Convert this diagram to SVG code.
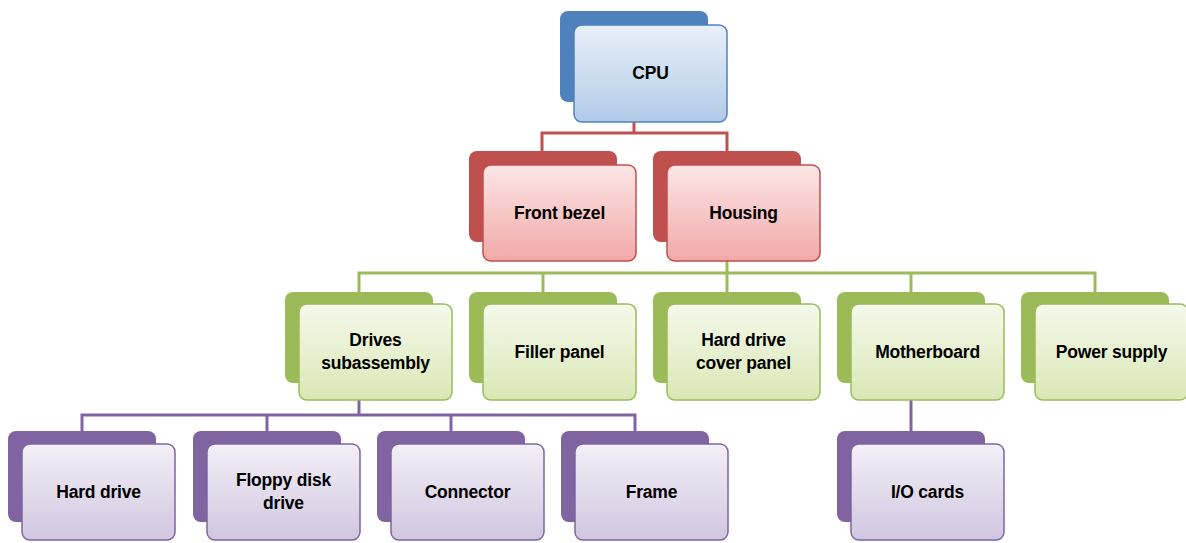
<svg xmlns="http://www.w3.org/2000/svg" width="1186" height="543" viewBox="0 0 1186 543">
<defs>
<linearGradient id="gB" x1="0" y1="0" x2="0" y2="1"><stop offset="0" stop-color="#E8F0FA"/><stop offset="1" stop-color="#B1CBE7"/></linearGradient>
<linearGradient id="gR" x1="0" y1="0" x2="0" y2="1"><stop offset="0" stop-color="#FCE6E6"/><stop offset="1" stop-color="#F2A9A8"/></linearGradient>
<linearGradient id="gG" x1="0" y1="0" x2="0" y2="1"><stop offset="0" stop-color="#F5F9EB"/><stop offset="1" stop-color="#DAE7B5"/></linearGradient>
<linearGradient id="gP" x1="0" y1="0" x2="0" y2="1"><stop offset="0" stop-color="#F3F0F7"/><stop offset="1" stop-color="#D1C6E0"/></linearGradient>
</defs>
<style>
.bk{rx:8px;ry:8px}
.fr{rx:8px;ry:8px;stroke-width:1.5}
.blue .bk{fill:#4F81BD}.blue .fr{fill:url(#gB);stroke:#4F81BD}
.red .bk{fill:#C0504D}.red .fr{fill:url(#gR);stroke:#C0504D}
.green .bk{fill:#9BBB59}.green .fr{fill:url(#gG);stroke:#9BBB59}
.purple .bk{fill:#8064A2}.purple .fr{fill:url(#gP);stroke:#8064A2}
text{font-family:"Liberation Sans",Arial,sans-serif;font-weight:bold;font-size:17.5px;text-anchor:middle;fill:#000;letter-spacing:-0.2px}
.c line,.c polyline{fill:none;stroke-width:3}
</style>
<g id="connectors" class="c">
<g stroke="#C0504D"><polyline points="634,122 634,133"/><polyline points="542,151 542,133 727,133 727,151"/></g>
<g stroke="#9BBB59"><polyline points="727,261 727,273"/><polyline points="359,292 359,273 1095,273 1095,292"/><line x1="543" y1="273" x2="543" y2="292"/><line x1="727" y1="273" x2="727" y2="292"/><line x1="911" y1="273" x2="911" y2="292"/></g>
<g stroke="#8064A2"><polyline points="359,400 359,415"/><polyline points="82,431 82,415 635,415 635,431"/><line x1="267" y1="415" x2="267" y2="431"/><line x1="451" y1="415" x2="451" y2="431"/><polyline points="911,399 911,431"/></g>
</g>
<g id="cpu" class="blue"><rect class="bk" x="560" y="11" width="148" height="91"/><rect class="fr" x="574" y="25" width="153" height="97"/><text x="650.5" y="79">CPU</text></g>
<g id="front-bezel" class="red"><rect class="bk" x="469" y="151" width="148" height="91"/><rect class="fr" x="483" y="165" width="153" height="96"/><text x="559.5" y="219">Front bezel</text></g>
<g id="housing" class="red"><rect class="bk" x="653" y="151" width="148" height="91"/><rect class="fr" x="667" y="165" width="153" height="96"/><text x="743.5" y="219">Housing</text></g>
<g id="drives-subassembly" class="green"><rect class="bk" x="285" y="292" width="148" height="91"/><rect class="fr" x="299" y="304" width="153" height="96"/><text x="375.5" y="346">Drives</text><text x="375.5" y="369">subassembly</text></g>
<g id="filler-panel" class="green"><rect class="bk" x="469" y="292" width="148" height="91"/><rect class="fr" x="483" y="304" width="153" height="96"/><text x="559.5" y="358">Filler panel</text></g>
<g id="hard-drive-cover-panel" class="green"><rect class="bk" x="653" y="292" width="148" height="91"/><rect class="fr" x="667" y="304" width="153" height="96"/><text x="743.5" y="346">Hard drive</text><text x="743.5" y="369">cover panel</text></g>
<g id="motherboard" class="green"><rect class="bk" x="837" y="292" width="148" height="91"/><rect class="fr" x="851" y="304" width="153" height="96"/><text x="927.5" y="358">Motherboard</text></g>
<g id="power-supply" class="green"><rect class="bk" x="1021" y="292" width="148" height="91"/><rect class="fr" x="1035" y="304" width="153" height="96"/><text x="1111.5" y="358">Power supply</text></g>
<g id="hard-drive" class="purple"><rect class="bk" x="8" y="431" width="148" height="91"/><rect class="fr" x="22" y="444" width="153" height="96"/><text x="98.5" y="498">Hard drive</text></g>
<g id="floppy-disk-drive" class="purple"><rect class="bk" x="193" y="431" width="148" height="91"/><rect class="fr" x="207" y="444" width="153" height="96"/><text x="283.5" y="486">Floppy disk</text><text x="283.5" y="509">drive</text></g>
<g id="connector" class="purple"><rect class="bk" x="377" y="431" width="148" height="91"/><rect class="fr" x="391" y="444" width="153" height="96"/><text x="467.5" y="498">Connector</text></g>
<g id="frame" class="purple"><rect class="bk" x="561" y="431" width="148" height="91"/><rect class="fr" x="575" y="444" width="153" height="96"/><text x="651.5" y="498">Frame</text></g>
<g id="io-cards" class="purple"><rect class="bk" x="837" y="431" width="148" height="91"/><rect class="fr" x="851" y="444" width="153" height="96"/><text x="927.5" y="498">I/O cards</text></g>
</svg>
